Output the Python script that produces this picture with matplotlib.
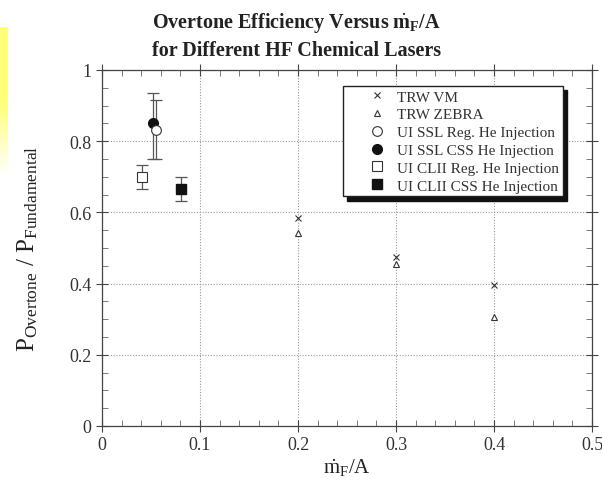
import numpy as np
import matplotlib
matplotlib.use('Agg')
import matplotlib.pyplot as plt

plt.rcParams['font.family'] = ['Liberation Serif', 'DejaVu Serif']
plt.rcParams['mathtext.fontset'] = 'custom'
plt.rcParams['mathtext.rm'] = 'Liberation Serif'
plt.rcParams['mathtext.it'] = 'Liberation Serif'
plt.rcParams['mathtext.bf'] = 'Liberation Serif:bold'

# data
vm_x = [0.2, 0.3, 0.4]
vm_y = [0.584, 0.475, 0.396]
zebra_x = [0.2, 0.3, 0.4]
zebra_y = [0.542, 0.455, 0.306]

ssl_reg_x, ssl_reg_y = [0.055], [0.832]
ssl_reg_lo, ssl_reg_hi = [0.75], [0.915]
ssl_css_x, ssl_css_y = [0.052], [0.851]
ssl_css_lo, ssl_css_hi = [0.75], [0.935]
cl_reg_x, cl_reg_y = [0.041], [0.700]
cl_reg_lo, cl_reg_hi = [0.666], [0.733]
cl_css_x, cl_css_y = [0.081], [0.666]
cl_css_lo, cl_css_hi = [0.632], [0.700]

labels = ['TRW VM', 'TRW ZEBRA', 'UI SSL Reg. He Injection', 'UI SSL CSS He Injection',
          'UI CLII Reg. He Injection', 'UI CLII CSS He Injection']

fig = plt.figure(figsize=(6.02, 4.81), dpi=100)
ax = fig.add_axes([102 / 602, 1 - 427 / 481, 490 / 602, 356 / 481])

# yellow strip on the left edge
strip = fig.add_axes([0, 1 - 178 / 481, 8 / 602, 150 / 481])
pos = np.linspace(0, 1, 100)
fade = np.clip(np.where(pos < 0.5, 1, (1 - pos) * 2), 0, 1)
img = np.zeros((100, 1, 4))
img[..., 0] = 1
img[..., 1] = 1
img[..., 2] = 0.25
img[..., 3] = fade[:, None] * 0.7
strip.imshow(img, aspect='auto', extent=[0, 1, 0, 1])
strip.axis('off')


def err(y, lo, hi):
    return [[y[0] - lo[0]], [hi[0] - y[0]]]


ebkw = dict(ecolor='#555555', elinewidth=0.9, capsize=4, capthick=0.9, linestyle='none')
ax.errorbar(ssl_css_x, ssl_css_y, yerr=err(ssl_css_y, ssl_css_lo, ssl_css_hi), **ebkw)
ax.errorbar(ssl_reg_x, ssl_reg_y, yerr=err(ssl_reg_y, ssl_reg_lo, ssl_reg_hi), **ebkw)
ax.errorbar(cl_reg_x, cl_reg_y, yerr=err(cl_reg_y, cl_reg_lo, cl_reg_hi), **ebkw)
ax.errorbar(cl_css_x, cl_css_y, yerr=err(cl_css_y, cl_css_lo, cl_css_hi), **ebkw)

ax.plot(vm_x, vm_y, 'x', color='#333333', ms=5, mew=0.8, label=labels[0])
ax.plot(zebra_x, zebra_y, '^', mfc='white', mec='#333333', ms=5, mew=0.8, label=labels[1])
ax.plot(ssl_reg_x, ssl_reg_y, 'o', mfc='white', mec='#333333', ms=7, mew=0.8, label=labels[2], zorder=4)
ax.plot(ssl_css_x, ssl_css_y, 'o', mfc='#111111', mec='#111111', ms=7, label=labels[3], zorder=3)
ax.plot(cl_reg_x, cl_reg_y, 's', mfc='white', mec='#333333', ms=6.5, mew=0.8, label=labels[4])
ax.plot(cl_css_x, cl_css_y, 's', mfc='#111111', mec='#111111', ms=6.5, label=labels[5])

ax.set_xlim(0, 0.5)
ax.set_ylim(0, 1)
ax.set_xticks([0, 0.1, 0.2, 0.3, 0.4, 0.5])
ax.set_xticklabels(['0', '0.1', '0.2', '0.3', '0.4', '0.5'])
ax.set_yticks([0, 0.2, 0.4, 0.6, 0.8, 1])
ax.set_yticklabels(['0', '0.2', '0.4', '0.6', '0.8', '1'])
ax.set_xticks(np.arange(0, 0.5, 0.02), minor=True)
ax.set_yticks(np.arange(0, 1, 0.05), minor=True)
ax.tick_params(which='major', direction='inout', length=9, width=0.8, color='#444444',
               top=True, right=True, labelsize=13, labelcolor='#333333', pad=3)
ax.tick_params(which='minor', direction='in', length=4, width=0.6, color='#666666',
               top=True, right=True)
for s in ax.spines.values():
    s.set_color('#444444')
    s.set_linewidth(0.9)
ax.grid(True, which='major', linestyle=(0, (1, 1.5)), color='#999999', linewidth=0.8)

ax.set_xlabel(r'$\dot{\mathrm{m}}_{\mathrm{F}}$/A', fontsize=15, color='#222222', labelpad=2)
ax.set_ylabel(r'P$_{\mathrm{Overtone}}$ / P$_{\mathrm{Fundamental}}$', fontsize=18,
              color='#222222', labelpad=21)

fig.text(0.493, 0.952, r'Overtone Efficiency Versus $\dot{\mathbf{m}}_{\mathbf{F}}$/A',
         ha='center', va='center', fontsize=14.5, fontweight='bold', color='#222222')
fig.text(0.493, 0.893, 'for Different HF Chemical Lasers',
         ha='center', va='center', fontsize=14.5, fontweight='bold', color='#222222')

leg = ax.legend(loc='upper right', bbox_to_anchor=(461 / 490, 1 - 16 / 356), fontsize=11,
                frameon=True, fancybox=False, edgecolor='#222222', borderpad=0.25,
                labelspacing=0.27, handletextpad=-0.7, handlelength=4.0, borderaxespad=0,
                shadow={'color': '#111111', 'alpha': 1, 'ox': 3, 'oy': -3})
leg.get_frame().set_linewidth(1.0)
for t in leg.get_texts():
    t.set_color('#333333')

fig.savefig('out.png', dpi=100)
